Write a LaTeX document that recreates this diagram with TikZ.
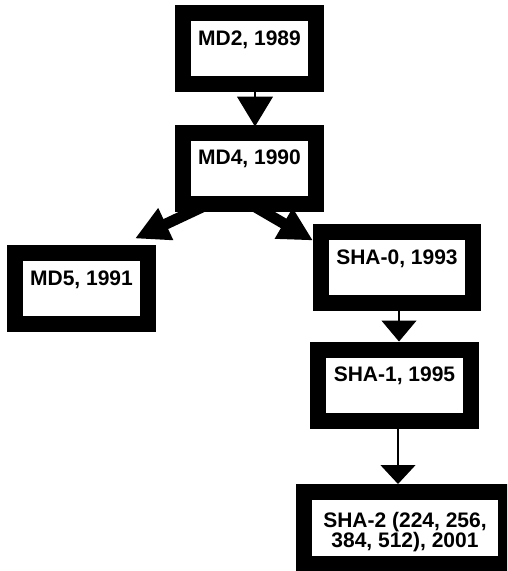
\documentclass[tikz,border=0pt]{standalone}
\usepackage{fontspec}
\setmainfont{Liberation Sans}
\usetikzlibrary{calc,arrows.meta}

\begin{document}
\begin{tikzpicture}[
  hashbox/.style={draw,line width=16pt,inner sep=0pt,outer sep=0pt,minimum width=133pt,
    text height=32pt,text depth=39pt,font=\bfseries\fontsize{21}{20}\selectfont},
  thinedge/.style={line width=1.2pt,-{Triangle[width=35pt,length=21pt]},shorten >=8pt},
  thickedge/.style={line width=11pt,-{Triangle[width=33pt,length=34pt]}}]
\begin{scope}[x=1pt,y=-1pt]
\path[use as bounding box,clip] (0,0) rectangle (507,571);
\fill[white] (0,0) rectangle (507,571);

% boxes
\node[hashbox] (md2) at (249.5,48.5) {MD2, 1989};
\node[hashbox] (md4) at (249.5,168) {MD4, 1990};
\node[hashbox] (md5) at (81.5,288.5) {MD5, 1991};
\node[hashbox,minimum width=152pt] (sha0) at (397,267.5) {SHA-0, 1993};
\node[hashbox,minimum width=153pt] (sha1) at (394.5,385) {SHA-1, 1995};
\node[hashbox,minimum width=202pt,align=center,text height=55pt,text depth=17pt]
  (sha2) at (405,528) {SHA-2 (224, 256,\\384, 512), 2001};

% edges
\draw[thinedge,-{Triangle[width=36pt,length=30pt]},shorten >=6pt]
  ([xshift=5.5pt]md2.south) -- ([xshift=5.5pt]md4.north);
\draw[thickedge] ($(md4.south west)!0.2!(md4.south east)$) -- ($(md5.north east)+(-13,-14.5)$);
\draw[thickedge] (md4.south) -- ($(sha0.north west)+(-8,8.5)$);
\draw[thinedge] ([xshift=2pt]sha0.south) -- ([xshift=2pt]sha0.south |- sha1.north);
\draw[thinedge,-{Triangle[width=35pt,length=19pt]}]
  ([xshift=3.5pt]sha1.south) -- ([xshift=3.5pt]sha1.south |- sha2.north);
\end{scope}
\end{tikzpicture}
\end{document}
